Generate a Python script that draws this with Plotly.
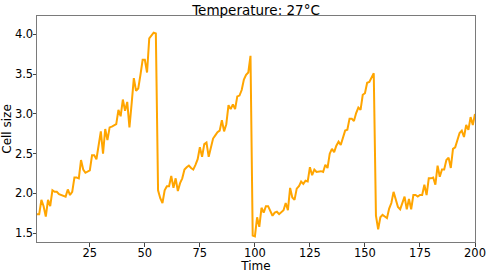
import plotly.graph_objects as go

time = list(range(1, 201))
cell_size = [
    1.74, 1.74, 1.92, 1.84, 1.71, 1.92, 1.84, 2.04, 2.02, 2.02,
    1.99, 1.98, 1.97, 1.96, 2.05, 1.98, 2.02, 2.20, 2.20, 2.19,
    2.42, 2.30, 2.26, 2.28, 2.29, 2.48, 2.48, 2.43, 2.59, 2.78,
    2.50, 2.81, 2.67, 2.83, 2.84, 2.86, 2.87, 3.05, 2.97, 3.18,
    3.04, 3.15, 2.83, 3.13, 3.45, 3.29, 3.32, 3.49, 3.68, 3.68,
    3.52, 3.95, 3.99, 4.02, 4.01, 2.04, 1.94, 1.88, 2.04, 2.09,
    2.09, 2.22, 2.07, 2.19, 2.03, 2.13, 2.19, 2.30, 2.33, 2.35,
    2.32, 2.30, 2.36, 2.43, 2.58, 2.46, 2.62, 2.64, 2.46, 2.59,
    2.69, 2.73, 2.77, 2.79, 2.92, 2.78, 2.87, 3.11, 3.06, 3.12,
    3.06, 3.22, 3.23, 3.30, 3.43, 3.49, 3.52, 3.73, 1.47, 1.46,
    1.70, 1.58, 1.82, 1.76, 1.84, 1.84, 1.78, 1.72, 1.76, 1.77,
    1.74, 1.76, 1.79, 1.88, 1.79, 2.07, 1.95, 1.92, 2.06, 2.09,
    2.15, 2.12, 2.16, 2.15, 2.33, 2.23, 2.30, 2.27, 2.28, 2.28,
    2.27, 2.36, 2.32, 2.50, 2.56, 2.52, 2.60, 2.65, 2.61, 2.69,
    2.79, 2.80, 2.94, 2.94, 2.91, 3.01, 3.08, 3.05, 3.24, 3.26,
    3.39, 3.40, 3.45, 3.51, 1.72, 1.55, 1.70, 1.73, 1.71, 1.69,
    1.81, 1.88, 2.02, 1.92, 1.83, 1.80, 1.87, 1.96, 1.80, 1.93,
    1.80, 1.98, 1.98, 1.96, 1.98, 1.98, 2.11, 1.98, 2.19, 2.19,
    2.20, 2.11, 2.35, 2.21, 2.30, 2.30, 2.42, 2.45, 2.32, 2.56,
    2.58, 2.67, 2.76, 2.79, 2.71, 2.86, 2.80, 2.96, 2.86, 3.00,
]
x_ticks = [25, 50, 75, 100, 125, 150, 175, 200]
y_ticks = [1.5, 2.0, 2.5, 3.0, 3.5, 4.0]
y_tick_labels = ["1.5", "2.0", "2.5", "3.0", "3.5", "4.0"]

FONT = "DejaVu Sans"
axis_col = "#7a7a7a"

fig = go.Figure(
    go.Scatter(x=time, y=cell_size, mode="lines",
               line=dict(color="#FFA500", width=2), hoverinfo="skip")
)
fig.update_layout(
    width=489, height=273,
    margin=dict(l=37, r=14, t=16, b=31, pad=0),
    paper_bgcolor="white", plot_bgcolor="white",
    showlegend=False,
    font=dict(family=FONT, color="black", size=11.5),
    title=dict(text="Temperature: 27°C", x=0.5, xref="paper", xanchor="center",
               y=0.963, yref="container", yanchor="middle",
               automargin=False,
               font=dict(family=FONT, size=13.5, color="black")),
)
fig.update_xaxes(
    range=[1, 200], tickvals=x_ticks, showgrid=False, zeroline=False,
    showline=True, linecolor=axis_col, linewidth=1, mirror=True,
    ticks="outside", ticklen=3.5, tickcolor="#444", tickwidth=1,
    automargin=False, ticklabelstandoff=-3,
    tickfont=dict(size=11.5), title=dict(text="Time", font=dict(size=12)),
)
fig.update_yaxes(
    range=[1.39, 4.23], tickvals=y_ticks, ticktext=y_tick_labels,
    showgrid=False, zeroline=False,
    showline=True, linecolor=axis_col, linewidth=1, mirror=True,
    ticks="outside", ticklen=3.5, tickcolor="#444", tickwidth=1,
    automargin=False, ticklabelstandoff=-3,
    tickfont=dict(size=11.5), title=dict(text="Cell size", font=dict(size=12)),
)
fig.write_html("out.html",
               config={"displayModeBar": False},
               post_script="document.body.style.margin='0px';document.body.style.overflow='hidden';")
